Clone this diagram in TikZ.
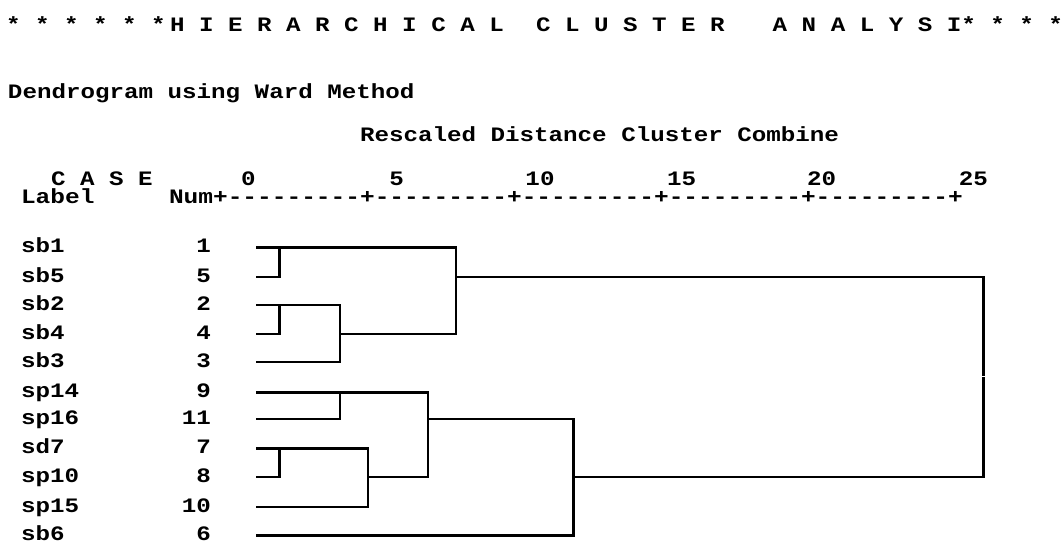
\documentclass[tikz,border=0pt]{standalone}
\usepackage{fontspec}
\newfontfamily\spss{Liberation Mono}[FakeStretch=1.18]
\newfontfamily\spssaxis{Liberation Mono}[FakeStretch=1.195]
\tikzset{
  txt/.style={inner sep=0pt, outer sep=0pt, anchor=base west,
    font=\spss\bfseries\fontsize{20.5}{24}\selectfont},
  axtxt/.style={txt, font=\spssaxis\bfseries\fontsize{20.5}{24}\selectfont},
  tick/.style={txt, anchor=base},
  num/.style={txt, anchor=base east},
  link/.style={line width=2.4pt, line cap=rect, line join=miter},
}
\begin{document}
\begin{tikzpicture}[x=1pt,y=-1pt]
\useasboundingbox[fill=white] (0,0) rectangle (1064,543);
% header
\node[txt] (st1) at (6,31.7) {* * * * * *};
\node[txt] (t1) at (170,31.7) {H I E R A R C H I C A L};
\node[txt] (t2) at (536,31.7) {C L U S T E R};
\node[txt] (t3) at (772.7,31.7) {A N A L Y S I* * * *};
\node[txt] (sub) at (8,98.3) {Dendrogram using Ward Method};
\node[txt] (resc) at (360,141.7) {Rescaled Distance Cluster Combine};
\node[txt] (case) at (51,185.5) {C A S E};
\node[tick] (x0) at (248.3,185.5) {0};
\node[tick] (x5) at (396.7,185.5) {5};
\node[tick] (x10) at (540,185.5) {10};
\node[tick] (x15) at (681.7,185.5) {15};
\node[tick] (x20) at (821.7,185.5) {20};
\node[tick] (x25) at (973.3,185.5) {25};
\node[axtxt] (lbl) at (21,203) {Label};
\node[axtxt] (axis) at (169,203) {Num+---------+---------+---------+---------+---------+};
% case labels and numbers
\foreach \nm/\lb/\nu/\yy in {1/sb1/1/247.3, 2/sb5/5/276.7, 3/sb2/2/305, 4/sb4/4/334,
  5/sb3/3/361.7, 6/sp14/9/392.3, 7/sp16/11/419, 8/sd7/7/448.3, 9/sp10/8/476.7,
  10/sp15/10/506.7, 11/sb6/6/535.3}{
  \node[txt] (lab\nm) at (21,\yy+5.6) {\lb};
  \node[num] (num\nm) at (211,\yy+5.6) {\nu};
  \coordinate (l\nm) at (257.3,\yy);
}
% merge points
\coordinate (k15) at (279.3,247.3);
\coordinate (k24) at (279.3,305);
\coordinate (k243) at (340,305);
\coordinate (kTop) at (455.7,247.3);
\coordinate (k911) at (340,392.3);
\coordinate (k78) at (279.3,448.3);
\coordinate (k7810) at (368,448.3);
\coordinate (kSp) at (427.7,392.3);
\coordinate (kAll) at (573.3,419);
\coordinate (kFin) at (983.3,276.7);
% dendrogram
\draw[link] (l1) -- (kTop);
\draw[link] (l2) -| (k15);
\draw[link] (l3) -- (k243);
\draw[link] (l4) -| (k24);
\draw[link] (l5) -| (k243);
\draw[link] (kTop) |- (k243 |- l4);
\draw[link] (kTop |- l2) -- (kFin);
\draw[link] (kFin) |- (kAll |- l9);
\draw[link] (l6) -- (kSp);
\draw[link] (l7) -| (k911);
\draw[link] (l8) -- (k7810);
\draw[link] (l9) -| (k78);
\draw[link] (l10) -| (k7810);
\draw[link] (kSp) |- (k7810 |- l9);
\draw[link] (kSp |- l7) -- (kAll);
\draw[link] (kAll) |- (l11);
\draw[white, line width=0.9pt] ([xshift=-4pt]kFin |- 0,376.7) -- ([xshift=4pt]kFin |- 0,376.7);
\end{tikzpicture}
\end{document}
